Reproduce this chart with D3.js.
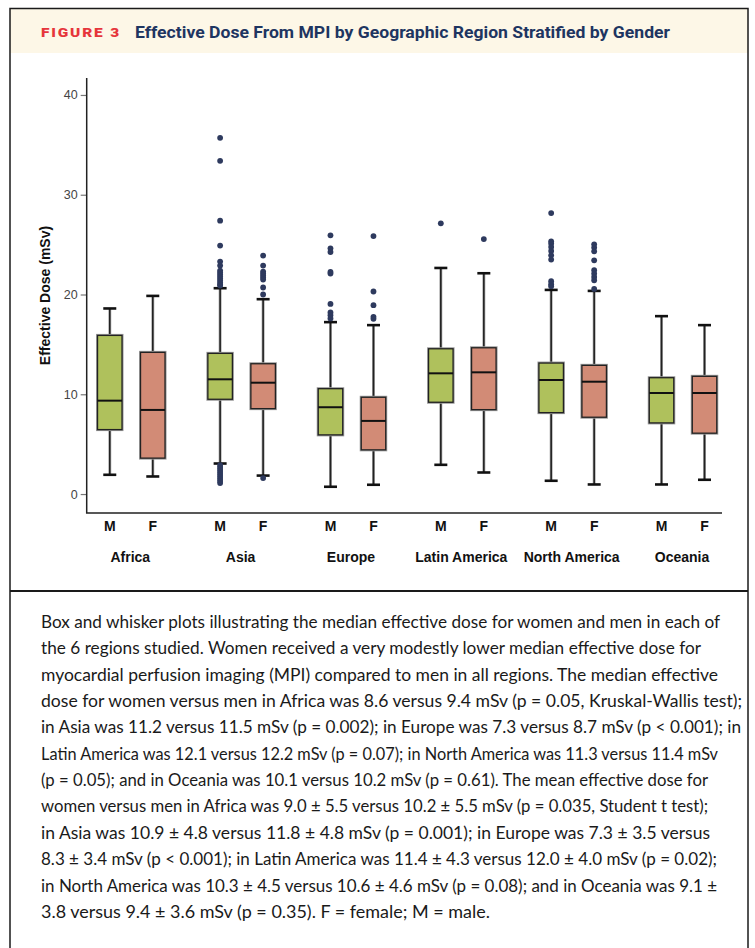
<!DOCTYPE html>
<html>
<head>
<meta charset="utf-8">
<script src="https://cdn.jsdelivr.net/npm/d3@7"></script>
<style>
  html, body { margin: 0; padding: 0; background: #fff; }
  svg { display: block; }
</style>
</head>
<body>
<script>
// ---------------- DATA ----------------
const regions = ["Africa", "Asia", "Europe", "Latin America", "North America", "Oceania"];
const sexes = ["M", "F"];
// [lower whisker, Q1, median, Q3, upper whisker]
const maleStats = [
  [1.93, 6.46, 9.36, 15.9, 18.6],
  [3.06, 9.5, 11.5, 14.1, 20.63],
  [0.73, 5.93, 8.7, 10.56, 17.23],
  [2.93, 9.2, 12.1, 14.56, 22.66],
  [1.33, 8.16, 11.43, 13.13, 20.46],
  [0.96, 7.13, 10.13, 11.66, 17.83]
];
const femaleStats = [
  [1.76, 3.6, 8.43, 14.2, 19.86],
  [1.85, 8.56, 11.16, 13.06, 19.53],
  [0.93, 4.43, 7.33, 9.7, 16.93],
  [2.16, 8.46, 12.2, 14.66, 22.13],
  [0.96, 7.7, 11.26, 12.9, 20.36],
  [1.43, 6.1, 10.13, 11.8, 16.93]
];
const maleOutliers = [
  [],
  [35.7, 33.4, 27.4, 24.9, 23.3, 22.9, 22.4, 22.2, 22.0, 21.8, 21.6, 21.4, 21.2, 21.0, 20.9,
   2.9, 2.7, 2.5, 2.3, 2.1, 1.9, 1.7, 1.5, 1.3, 1.1],
  [25.93, 24.63, 24.26, 22.26, 22.1, 19.06, 18.2, 17.93, 17.6],
  [27.13],
  [28.16, 25.33, 25.1, 24.76, 24.36, 23.93, 23.5, 21.33, 21.03, 20.83],
  []
];
const femaleOutliers = [
  [],
  [23.9, 22.9, 22.3, 22.1, 21.9, 21.7, 21.5, 20.7, 20.0, 1.6],
  [25.86, 20.3, 18.93, 17.76, 17.56],
  [25.56],
  [25.03, 24.7, 24.33, 23.43, 22.43, 22.1, 21.76, 21.43, 20.56],
  []
];
const yTicks = [0, 10, 20, 30, 40];
const yLabel = "Effective Dose (mSv)";
const figLabel = "FIGURE 3";
const title = "Effective Dose From MPI by Geographic Region Stratified by Gender";
const captionLines = [
  "Box and whisker plots illustrating the median effective dose for women and men in each of",
  "the 6 regions studied. Women received a very modestly lower median effective dose for",
  "myocardial perfusion imaging (MPI) compared to men in all regions. The median effective",
  "dose for women versus men in Africa was 8.6 versus 9.4 mSv (p = 0.05, Kruskal-Wallis test);",
  "in Asia was 11.2 versus 11.5 mSv (p = 0.002); in Europe was 7.3 versus 8.7 mSv (p < 0.001); in",
  "Latin America was 12.1 versus 12.2 mSv (p = 0.07); in North America was 11.3 versus 11.4 mSv",
  "(p = 0.05); and in Oceania was 10.1 versus 10.2 mSv (p = 0.61). The mean effective dose for",
  "women versus men in Africa was 9.0 \u00b1 5.5 versus 10.2 \u00b1 5.5 mSv (p = 0.035, Student t test);",
  "in Asia was 10.9 \u00b1 4.8 versus 11.8 \u00b1 4.8 mSv (p = 0.001); in Europe was 7.3 \u00b1 3.5 versus",
  "8.3 \u00b1 3.4 mSv (p < 0.001); in Latin America was 11.4 \u00b1 4.3 versus 12.0 \u00b1 4.0 mSv (p = 0.02);",
  "in North America was 10.3 \u00b1 4.5 versus 10.6 \u00b1 4.6 mSv (p = 0.08); and in Oceania was 9.1 \u00b1",
  "3.8 versus 9.4 \u00b1 3.6 mSv (p = 0.35). F = female; M = male."
];

// ---------------- LAYOUT ----------------
const W = 755, H = 948;
const captionWidths = [679, 660, 677, 701, 700, 677, 667, 667, 669, 676, 676, 449];
const colors = { M: "#afc15c", F: "#d28b76" };
const dotColor = "#2e3a5e";
const axisFont = "'Liberation Sans', Arial, Helvetica, sans-serif";

const svg = d3.select("body").append("svg").attr("width", W).attr("height", H);

// frame + header
svg.append("rect").attr("x", 10).attr("y", 8.5).attr("width", 738).attr("height", 44.5).attr("fill", "#fdf7e7");
svg.append("rect").attr("x", 10).attr("y", 8.5).attr("width", 738).attr("height", 945)
  .attr("fill", "none").attr("stroke", "#1a1a1a").attr("stroke-width", 1.5);
svg.append("line").attr("x1", 10).attr("x2", 748).attr("y1", 591).attr("y2", 591)
  .attr("stroke", "#1a1a1a").attr("stroke-width", 2);

svg.append("text").attr("x", 41).attr("y", 37)
  .attr("font-family", "Roboto, 'Open Sans', sans-serif").attr("font-weight", 900)
  .attr("font-size", 13.5).attr("letter-spacing", 1.6).attr("fill", "#e6353b")
  .attr("textLength", 80).attr("lengthAdjust", "spacingAndGlyphs")
  .text(figLabel);
svg.append("text").attr("x", 135).attr("y", 37.5)
  .attr("font-family", "Roboto, 'Open Sans', sans-serif").attr("font-weight", 700)
  .attr("font-size", 17).attr("fill", "#1e3561")
  .attr("textLength", 535).attr("lengthAdjust", "spacingAndGlyphs")
  .text(title);

// ---------------- SCALES ----------------
const y = d3.scaleLinear().domain([-1.9, 41.7]).range([513, 78]);
const xRegion = d3.scaleBand().domain(regions).range([76.1, 738.2]).paddingInner(0).paddingOuter(0);
const xSex = d3.scalePoint().domain(sexes).range([0, xRegion.bandwidth()]).padding(0.783);
const boxW = 24.5;

// axes
const yAxis = d3.axisLeft(y).tickValues(yTicks).tickSize(6).tickPadding(3).tickFormat(d3.format("d"));
const gy = svg.append("g").attr("transform", "translate(86.7,0)").call(yAxis);
gy.select(".domain").remove();
gy.selectAll(".tick line").attr("stroke", "#777").attr("stroke-width", 1.2);
gy.selectAll(".tick text").attr("font-family", axisFont).attr("font-size", 12.5).attr("fill", "#444");

svg.append("path")
  .attr("d", `M86.7,${y(41.7)}V${y(-1.9)}H722`)
  .attr("fill", "none").attr("stroke", "#222").attr("stroke-width", 1.5);

const yLabelMid = (y(41.7) + y(-1.9)) / 2;
svg.append("text")
  .attr("transform", `translate(50,${yLabelMid}) rotate(-90)`)
  .attr("text-anchor", "middle")
  .attr("font-family", axisFont).attr("font-weight", 700).attr("font-size", 14).attr("fill", "#111")
  .text(yLabel);

// ---------------- BOXES ----------------
const items = [];
regions.forEach((r, i) => {
  items.push({ region: r, sex: "M", s: maleStats[i], out: maleOutliers[i] });
  items.push({ region: r, sex: "F", s: femaleStats[i], out: femaleOutliers[i] });
});
const cx = d => xRegion(d.region) + xSex(d.sex);

const g = svg.append("g");
const box = g.selectAll("g.box").data(items).join("g").attr("class", "box");

// whisker stems
box.append("line")
  .attr("x1", cx).attr("x2", cx)
  .attr("y1", d => y(d.s[4])).attr("y2", d => y(d.s[0]))
  .attr("stroke", "#aaa").attr("stroke-width", 3);
box.append("line")
  .attr("x1", cx).attr("x2", cx)
  .attr("y1", d => y(d.s[4])).attr("y2", d => y(d.s[0]))
  .attr("stroke", "#222").attr("stroke-width", 1.6);
// caps
[0, 4].forEach(k => {
  box.append("line")
    .attr("x1", d => cx(d) - 6.5).attr("x2", d => cx(d) + 6.5)
    .attr("y1", d => y(d.s[k])).attr("y2", d => y(d.s[k]))
    .attr("stroke", "#111").attr("stroke-width", 2.6);
});
// box halo + body
box.append("rect")
  .attr("x", d => cx(d) - boxW / 2).attr("width", boxW)
  .attr("y", d => y(d.s[3])).attr("height", d => y(d.s[1]) - y(d.s[3]))
  .attr("fill", "none").attr("stroke", "#999").attr("stroke-width", 3);
box.append("rect")
  .attr("x", d => cx(d) - boxW / 2).attr("width", boxW)
  .attr("y", d => y(d.s[3])).attr("height", d => y(d.s[1]) - y(d.s[3]))
  .attr("fill", d => colors[d.sex]).attr("stroke", "#222").attr("stroke-width", 1.3);
// median
box.append("line")
  .attr("x1", d => cx(d) - boxW / 2).attr("x2", d => cx(d) + boxW / 2)
  .attr("y1", d => y(d.s[2])).attr("y2", d => y(d.s[2]))
  .attr("stroke", "#111").attr("stroke-width", 2);
// outliers
box.selectAll("circle").data(d => d.out.map(v => ({ v, x: cx(d) }))).join("circle")
  .attr("cx", d => d.x).attr("cy", d => y(d.v)).attr("r", 2.9).attr("fill", dotColor);

// ---------------- CATEGORY LABELS ----------------
svg.append("g").selectAll("text").data(items).join("text")
  .attr("x", cx).attr("y", 530.5)
  .attr("text-anchor", "middle")
  .attr("font-family", axisFont).attr("font-weight", 700).attr("font-size", 14).attr("fill", "#111")
  .text(d => d.sex);
svg.append("g").selectAll("text").data(regions).join("text")
  .attr("x", d => xRegion(d) + xRegion.bandwidth() / 2 - 1).attr("y", 561.5)
  .attr("text-anchor", "middle")
  .attr("font-family", axisFont).attr("font-weight", 700).attr("font-size", 14).attr("fill", "#111")
  .text(d => d);

// ---------------- CAPTION ----------------
svg.append("g").selectAll("text").data(captionLines).join("text")
  .attr("x", 41).attr("y", (d, i) => 628 + i * 26.35)
  .attr("font-family", "Lato, 'Open Sans', sans-serif").attr("font-size", 16.5).attr("fill", "#1a1a1a")
  .attr("textLength", (d, i) => captionWidths[i]).attr("lengthAdjust", "spacingAndGlyphs")
  .text(d => d);
</script>
</body>
</html>
